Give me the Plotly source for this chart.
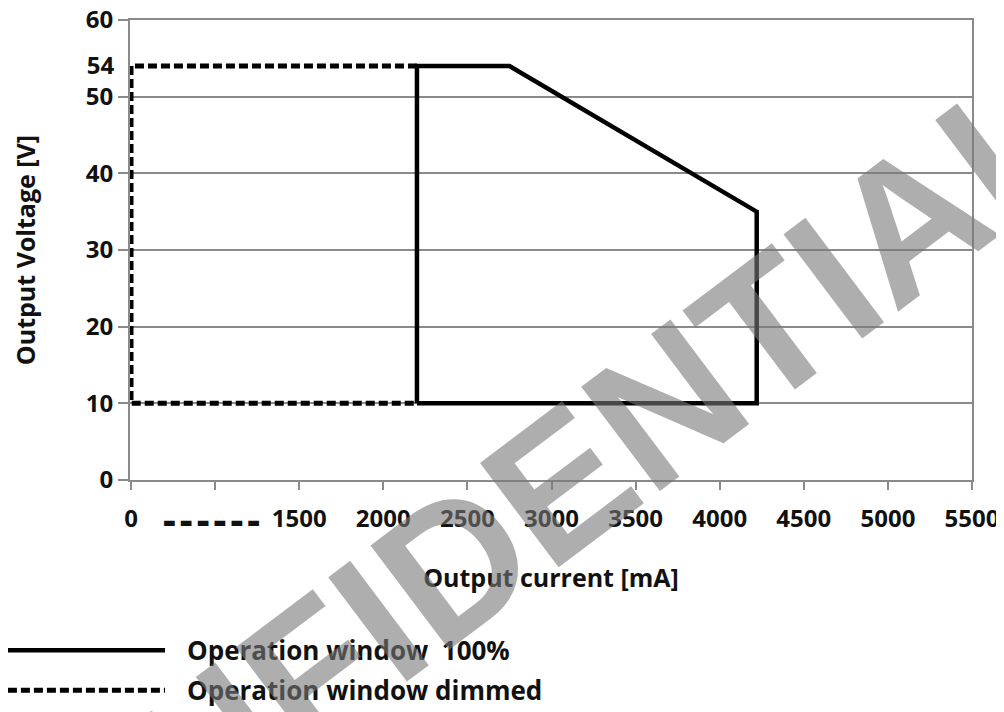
import numpy as np
import plotly.graph_objects as go

# ---------------- data ----------------
# Operation window 100 % (closed polygon), current in mA, voltage in V
full_current = [2200, 2200, 2750, 4220, 4220, 2200]
full_voltage = [10, 54, 54, 35, 10, 10]

# Operation window dimmed
dim_current = [2200, 0, 0, 2200]
dim_voltage = [54, 54, 10, 10]

# x-axis tick labels (the axis is broken between 0 and 1500 mA)
x_tick_currents = [0, 750, 1500, 2000, 2500, 3000, 3500, 4000, 4500, 5000, 5500]
x_tick_labels = ["0", "<span style='font-size:14px'>▬ ▬ ▬ ▬ ▬ ▬&nbsp;&nbsp;</span>",
                 "1500", "2000", "2500", "3000", "3500", "4000", "4500", "5000", "5500"]

y_grid_ticks = [0, 10, 20, 30, 40, 50, 60]
y_extra_ticks = [54]

series_names = ["Operation window  100%", "Operation window dimmed"]


def axis_pos(current):
    """Broken axis: 0..1500 mA squeezed into two tick intervals, linear above."""
    c = np.asarray(current, dtype=float)
    return np.where(c >= 1500, c, 500 + c * 2.0 / 3.0)


FONT = "Open Sans, DejaVu Sans, sans-serif"
GRID = "#8a8a8a"
TXT = "#111111"
TICK_SIZE = 24
TITLE_SIZE = 25
LEG_SIZE = 26
DASH = "9px,4px"

fig = go.Figure()

fig.add_trace(go.Scatter(
    x=axis_pos(dim_current), y=dim_voltage, mode="lines", name=series_names[1],
    line=dict(color="#000000", width=5, dash=DASH), showlegend=False))

fig.add_trace(go.Scatter(
    x=axis_pos(full_current), y=full_voltage, mode="lines", name=series_names[0],
    line=dict(color="#000000", width=4.5), showlegend=False))

# invisible trace on overlay axis to carry the "54" label
fig.add_trace(go.Scatter(x=[None], y=[None], yaxis="y2", showlegend=False))

fig.update_layout(
    width=996, height=704,
    margin=dict(l=122, r=32, t=12, b=232),
    paper_bgcolor="white", plot_bgcolor="white",
    font=dict(family=FONT, size=TICK_SIZE, color=TXT, weight="bold"),
    xaxis=dict(
        range=[494, 5500], automargin=False,
        tickmode="array", tickvals=axis_pos(x_tick_currents).tolist(), ticktext=x_tick_labels,
        ticks="outside", ticklen=8, tickwidth=2, tickcolor=GRID, ticklabelstandoff=8,
        showline=True, linecolor=GRID, linewidth=2, mirror=True,
        showgrid=False, zeroline=False, ticklabeloverflow="allow",
        tickfont=dict(family=FONT, size=TICK_SIZE, color=TXT, weight="bold"),
        title=dict(text="Output current [mA]", standoff=37,
                   font=dict(family=FONT, size=TITLE_SIZE, color=TXT, weight="bold")),
    ),
    yaxis=dict(
        range=[0, 60], automargin=False,
        tickmode="array", tickvals=y_grid_ticks,
        ticks="outside", ticklen=10, tickwidth=2, tickcolor=GRID,
        showline=True, linecolor=GRID, linewidth=2, mirror=True,
        showgrid=True, gridcolor=GRID, gridwidth=2, zeroline=False,
        ticklabeloverflow="allow",
        tickfont=dict(family=FONT, size=TICK_SIZE, color=TXT, weight="bold"),
        title=dict(text="Output Voltage [V]", standoff=47,
                   font=dict(family=FONT, size=TITLE_SIZE, color=TXT, weight="bold")),
    ),
    yaxis2=dict(
        range=[0, 60], overlaying="y", side="left", automargin=False,
        tickmode="array", tickvals=y_extra_ticks,
        ticks="outside", ticklen=10, tickcolor="rgba(0,0,0,0)",
        showline=False, showgrid=False, zeroline=False, ticklabeloverflow="allow",
        tickfont=dict(family=FONT, size=TICK_SIZE, color=TXT, weight="bold"),
    ),
    showlegend=False,
)

# ----- manual legend (long line samples as in the original) -----
legend_rows = [(-0.370, dict(color="#000000", width=4.5)),
               (-0.457, dict(color="#000000", width=5, dash=DASH))]
for (yy, ln), name in zip(legend_rows, series_names):
    fig.add_shape(type="line", xref="paper", yref="paper",
                  x0=-0.145, x1=0.0416, y0=yy, y1=yy, line=ln)
    fig.add_annotation(xref="paper", yref="paper", x=0.0653, y=yy, text=name,
                       showarrow=False, xanchor="left", yanchor="middle",
                       font=dict(family=FONT, size=LEG_SIZE, color=TXT, weight="bold"))

# ----- watermark -----
fig.add_annotation(xref="paper", yref="paper", x=0.43, y=-0.12,
                   text="CONFIDENTIAL", showarrow=False, textangle=-37,
                   xanchor="center", yanchor="middle",
                   font=dict(family="Liberation Sans, Arial, sans-serif", weight="bold",
                             size=190, color="rgba(120,120,120,0.6)"))

fig.write_html("out.html")
